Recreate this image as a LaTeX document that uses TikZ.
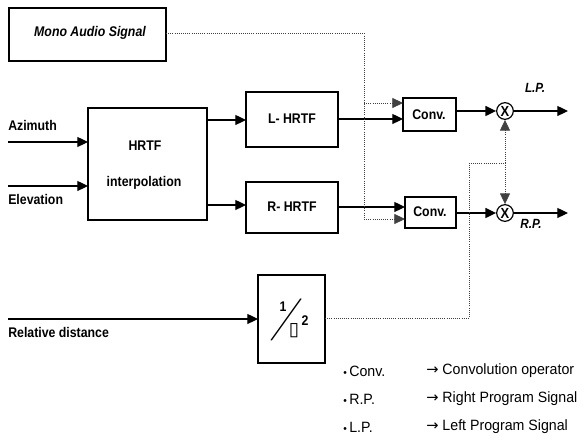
\documentclass[tikz,border=0pt]{standalone}
\usepackage{fontspec}
\setmainfont{Liberation Sans}[FakeStretch=0.88]
\newfontfamily\legfont{Liberation Sans}[FakeStretch=0.95]
\newfontfamily\symfont{DejaVu Sans}
\usetikzlibrary{arrows.meta}
\begin{document}
\begin{tikzpicture}[x=0.75pt,y=-0.75pt,
  box/.style={draw,line width=0.9pt,inner sep=0pt},
  lbl/.style={font=\fontsize{10.5}{12}\selectfont\bfseries,inner sep=0pt},
  leg/.style={font=\legfont\fontsize{11.2}{13}\selectfont,inner sep=0pt,anchor=west},
  tip/.style={-{Triangle[length=8pt,width=7.5pt]}},
  sig/.style={line width=0.9pt,tip},
  dsig/.style={densely dotted,line width=0.6pt,black!75},
  dsiga/.style={dsig,tip},
  mul/.style={draw,circle,line width=0.9pt,minimum size=12.5pt,inner sep=0pt,font=\fontsize{11}{12}\selectfont\bfseries}]
\useasboundingbox (0,0) rectangle (587,441);
% boxes
\draw[box] (9,8) rectangle (166,61);
\node[lbl,font=\fontsize{10.5}{12}\selectfont\bfseries\itshape] (mono) at (90,33) {Mono Audio Signal};
\coordinate (monoE) at (166,33);
\draw[box] (88,108) rectangle (207,220);
\node[lbl] (hrtf1) at (145,146) {HRTF};
\node[lbl] (hrtf2) at (144,183) {interpolation};
\coordinate (hW1) at (88,142); \coordinate (hW2) at (88,186);
\coordinate (hE1) at (207,120); \coordinate (hE2) at (207,205);
\draw[box] (246,92) rectangle (338,147);
\node[lbl] (lh) at (292,119) {L- HRTF};
\draw[box] (246,182) rectangle (338,233);
\node[lbl] (rh) at (292,207) {R- HRTF};
\draw[box] (403,98) rectangle (456,131);
\node[lbl] (c1) at (429,115) {Conv.};
\draw[box] (405,197) rectangle (456,228);
\node[lbl] (c2) at (430,212) {Conv.};
\draw[box] (258,275) rectangle (325,363);
% fraction 1/D^2
\node[inner sep=0pt,font=\fontsize{10.5}{11}\selectfont\bfseries] (f1) at (283,307) {1};
\node[inner sep=0pt,font=\fontsize{12}{12}\selectfont] (fs) at (287,320) {\scalebox{2}[1.05]{$\Bigg/$}};
\node[inner sep=0pt,font=\symfont\fontsize{14}{14}\selectfont] (fd) at (294,331) {▯};
\node[inner sep=0pt,font=\fontsize{10.5}{11}\selectfont\bfseries] (f2) at (305,321) {2};
% multipliers
\node[mul] (m1) at (505,111) {X};
\node[mul] (m2) at (505,213) {X};
% labels
\node[lbl,anchor=west] (az) at (8,126) {Azimuth};
\node[lbl,anchor=west] (el) at (8,200) {Elevation};
\node[lbl,anchor=west] (rd) at (8,333) {Relative distance};
\node[lbl,font=\fontsize{10}{12}\selectfont\bfseries\itshape] (lp) at (535,88) {L.P.};
\node[lbl,font=\fontsize{10}{12}\selectfont\bfseries\itshape] (rp) at (531,224) {R.P.};
% coordinates
\coordinate (azS) at (8,142); \coordinate (elS) at (8,186); \coordinate (rdS) at (8,319);
\coordinate (lhW) at (246,120); \coordinate (rhW) at (246,205);
\coordinate (lhE) at (338,119); \coordinate (rhE) at (338,207);
\coordinate (c1a) at (403,103); \coordinate (c1b) at (403,119);
\coordinate (c2a) at (405,207); \coordinate (c2b) at (405,219);
\coordinate (c1E) at (456,111); \coordinate (c2E) at (456,213);
\coordinate (o1) at (568,111); \coordinate (o2) at (568,213);
\coordinate (dW) at (258,319); \coordinate (dE) at (325,318);
\coordinate (j1) at (364,33); \coordinate (j2) at (364,103); \coordinate (j3) at (364,219);
\coordinate (k1) at (469,318); \coordinate (k2) at (469,163); \coordinate (k3) at (505,163);
% solid connectors
\draw[sig] (azS) -- (hW1);
\draw[sig] (elS) -- (hW2);
\draw[sig] (hE1) -- (lhW);
\draw[sig] (hE2) -- (rhW);
\draw[sig] (lhE) -- (c1b);
\draw[sig] (rhE) -- (c2a);
\draw[sig] (c1E) -- (m1.west);
\draw[sig] (c2E) -- (m2.west);
\draw[sig] (m1.east) -- (o1);
\draw[sig] (m2.east) -- (o2);
\draw[sig] (rdS) -- (dW);
% dotted connectors
\draw[dsig] (monoE) -- (j1) -- (j3);
\draw[dsiga] (j2) -- (c1a);
\draw[dsiga] (j3) -- (c2b);
\draw[dsig] (dE) -- (k1) -- (k2) -- (k3);
\draw[dsiga] (k3) -- (m1.south);
\draw[dsiga] (k3) -- (m2.north);
% legend
\node[leg] (g1) at (343,371) {{\fontsize{8}{10}\selectfont\textbullet}\,Conv.};
\node[leg] (g2) at (343,399) {{\fontsize{8}{10}\selectfont\textbullet}\,R.P.};
\node[leg] (g3) at (343,427) {{\fontsize{8}{10}\selectfont\textbullet}\,L.P.};
\node[leg] (h1) at (426,371) {{\symfont\fontsize{11}{12}\selectfont→}\ Convolution operator};
\node[leg] (h2) at (426,399) {{\symfont\fontsize{11}{12}\selectfont→}\ Right Program Signal};
\node[leg] (h3) at (426,427) {{\symfont\fontsize{11}{12}\selectfont→}\ Left Program Signal};
\end{tikzpicture}
\end{document}
